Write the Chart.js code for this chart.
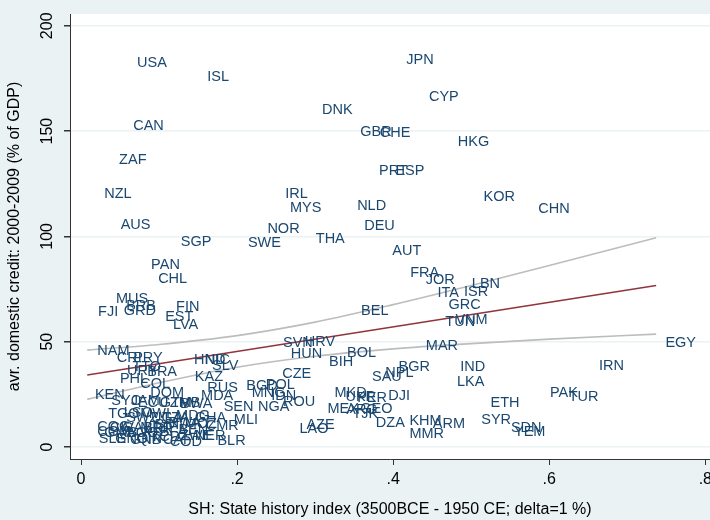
<!DOCTYPE html>
<html>
<head>
<meta charset="utf-8">
<title>State history and domestic credit</title>
<script src="https://cdn.jsdelivr.net/npm/chart.js@4.4.1/dist/chart.umd.min.js"></script>
<style>
  html, body { margin: 0; padding: 0; background: #eaf2f3; }
  #wrap { width: 710px; height: 520px; }
</style>
</head>
<body>
<div id="wrap"><canvas id="chart" width="710" height="520"></canvas></div>
<script>
// country codes, state history index (x) and avg. domestic credit 2000-2009 (y)
var codes = [
  'USA','ISL','JPN','CYP','DNK','CAN','GBR','CHE','HKG','ZAF',
  'PRT','ESP','NZL','IRL','KOR','MYS','NLD','CHN','AUS','DEU',
  'NOR','THA','SGP','SWE','AUT','PAN','FRA','CHL','JOR','LBN',
  'ITA','ISR','MUS','FIN','GRC','BRB','GRD','FJI','BEL','EST',
  'LVA','TUN','VNM','MAR','NAM','SVN','HRV','HUN','BOL','BIH',
  'EGY','BGR','IND','IRN','NPL','SAU','CZE','LKA','PAK','TUR',
  'DJI','ETH','MKD','UKR','PER','MEX','ARG','GEO','TJK','DZA',
  'KHM','ARM','MMR','SYR','SDN','YEM','LAO','AZE','ROU','BGD',
  'POL','MNG','IDN','NGA','SEN','RUS','MDA','KAZ','HND','NIC',
  'SLV','MLI','GHA','CMR','NER','BLR','COD','BWA','ZMB','KEN',
  'SYC','JAM','TGO','SLE','GNQ','GIN','COG','COM','CRI','PRY',
  'URY','BRA','TTO','PHL','COL','DOM','ECU','GTM','LSO','MWI',
  'UGA','TZA','BDI','RWA','MDG','BFA','BEN','TCD','CAF','CIV',
  'GAB','AGO','MRT','GMB','MOZ','ZWE','GNB','LBR','SWZ'
];
var stateHistory = [
  0.068,0.158,0.413,0.442,0.305,0.063,0.354,0.379,0.479,0.045,
  0.378,0.399,0.026,0.258,0.512,0.264,0.350,0.582,0.047,0.359,
  0.235,0.297,0.124,0.210,0.395,0.086,0.418,0.095,0.438,0.497,
  0.453,0.487,0.041,0.118,0.467,0.054,0.051,0.018,0.355,0.104,
  0.114,0.463,0.476,0.438,0.017,0.255,0.283,0.265,0.337,0.314,
  0.745,0.403,0.482,0.660,0.386,0.369,0.254,0.478,0.597,0.621,
  0.390,0.521,0.321,0.335,0.350,0.312,0.336,0.354,0.344,0.374,
  0.417,0.447,0.417,0.509,0.547,0.551,0.276,0.285,0.255,0.208,
  0.233,0.215,0.240,0.223,0.179,0.158,0.150,0.142,0.141,0.155,
  0.164,0.192,0.142,0.156,0.142,0.171,0.110,0.123,0.110,0.014,
  0.035,0.060,0.031,0.019,0.040,0.067,0.017,0.017,0.042,0.063,
  0.055,0.081,0.062,0.046,0.072,0.085,0.069,0.097,0.051,0.072,
  0.086,0.100,0.091,0.108,0.118,0.097,0.121,0.085,0.101,0.033,
  0.049,0.054,0.072,0.026,0.129,0.123,0.059,0.078,0.054
];
var credit = [
  182.3,175.7,183.7,166.2,160.0,152.4,149.6,149.1,144.8,136.3,
  131.0,131.0,120.1,120.1,118.7,113.5,114.4,113.0,105.4,104.9,
  103.5,98.8,97.3,96.9,93.1,86.4,82.6,79.8,79.3,77.4,
  73.1,73.6,70.3,66.5,67.4,66.9,64.6,64.1,64.6,61.7,
  57.9,59.4,60.3,48.0,45.6,49.4,49.9,44.2,44.6,40.4,
  49.4,38.0,38.0,38.5,35.1,33.2,34.7,30.9,25.6,23.7,
  24.2,20.9,25.6,23.7,23.3,18.0,17.6,18.0,15.7,11.4,
  12.3,10.9,6.2,12.8,9.0,7.1,8.5,10.4,21.4,29.0,
  29.4,25.6,24.2,19.0,19.0,28.0,24.2,33.2,41.3,41.3,
  38.5,12.8,13.8,10.0,5.2,2.8,2.4,20.4,20.9,24.7,
  21.8,21.8,15.7,3.8,3.8,3.8,9.5,7.1,42.3,42.3,
  36.1,35.6,38.0,32.3,29.9,25.6,20.9,20.9,16.1,15.7,
  13.8,13.8,10.4,11.4,14.7,7.1,8.1,4.7,3.3,9.0,
  9.0,6.6,9.0,6.6,10.9,5.2,3.3,8.5,13.8
];

// linear fit and its confidence band
var fitX = [0.008, 0.737];
var fitY = [34.2, 76.7];
var ciX = [0.008, 0.1, 0.2, 0.3, 0.4, 0.5, 0.6, 0.737];
var ciUpper = [46.0, 48.7, 52.9, 59.3, 67.6, 76.7, 86.2, 99.4];
var ciLower = [22.6, 30.5, 37.9, 43.1, 46.6, 49.1, 51.2, 53.6];

var xTicks = [0, 0.2, 0.4, 0.6, 0.8];
var yTicks = [0, 50, 100, 150, 200];

Chart.defaults.font.family = '"Liberation Sans", Arial, sans-serif';
Chart.defaults.color = '#000';

// white plot region on the grey page
var plotBackground = {
  id: 'plotBackground',
  beforeDraw: function(chart) {
    var a = chart.chartArea;
    var ctx = chart.ctx;
    ctx.save();
    ctx.fillStyle = '#ffffff';
    ctx.fillRect(a.left, a.top, a.right - a.left, a.bottom - a.top);
    ctx.restore();
  }
};

// draw the country code as the marker
var countryLabels = {
  id: 'countryLabels',
  afterDatasetsDraw: function(chart) {
    var meta = chart.getDatasetMeta(0);
    var ctx = chart.ctx;
    ctx.save();
    ctx.font = '14.5px "Liberation Sans", Arial, sans-serif';
    ctx.fillStyle = '#1a476f';
    ctx.textAlign = 'left';
    ctx.textBaseline = 'middle';
    meta.data.forEach(function(pt, i) {
      ctx.fillText(codes[i], pt.x + 3, pt.y);
    });
    ctx.restore();
  }
};

function toPoints(xs, ys) {
  return xs.map(function(x, i) { return { x: x, y: ys[i] }; });
}

// keep the plot region fixed, no room reserved for overhanging tick labels
function noPadding(scale) {
  scale.paddingLeft = 0;
  scale.paddingRight = 0;
  scale.paddingTop = 0;
  scale.paddingBottom = 0;
}

new Chart(document.getElementById('chart'), {
  type: 'scatter',
  data: {
    datasets: [{
      label: 'countries',
      data: toPoints(stateHistory, credit),
      pointRadius: 0,
      pointHoverRadius: 0
    }, {
      label: 'upper',
      data: toPoints(ciX, ciUpper),
      showLine: true,
      borderColor: '#bdbdbd',
      borderWidth: 1.6,
      cubicInterpolationMode: 'monotone',
      pointRadius: 0
    }, {
      label: 'lower',
      data: toPoints(ciX, ciLower),
      showLine: true,
      borderColor: '#bdbdbd',
      borderWidth: 1.6,
      cubicInterpolationMode: 'monotone',
      pointRadius: 0
    }, {
      label: 'fit',
      data: toPoints(fitX, fitY),
      showLine: true,
      borderColor: '#90353b',
      borderWidth: 1.6,
      pointRadius: 0
    }]
  },
  options: {
    responsive: false,
    animation: false,
    layout: { padding: { top: 14, right: 0, bottom: 0, left: 0 } },
    plugins: {
      legend: { display: false },
      tooltip: { enabled: false }
    },
    scales: {
      x: {
        type: 'linear',
        min: -0.0141,
        max: 0.806,
        afterBuildTicks: function(scale) {
          scale.ticks = xTicks.map(function(v) { return { value: v }; });
        },
        afterFit: function(scale) { scale.height = 61; noPadding(scale); },
        border: { display: true, color: '#333', width: 1 },
        grid: { drawOnChartArea: false, drawTicks: true, tickLength: 6, tickColor: '#333' },
        ticks: {
          autoSkip: false,
          maxRotation: 0,
          padding: 5,
          font: { size: 16 },
          callback: function(v) { return v === 0 ? '0' : String(v).replace(/^0/, ''); }
        },
        title: {
          display: true,
          text: 'SH: State history index (3500BCE - 1950 CE; delta=1 %)',
          font: { size: 16 },
          padding: { top: 0, bottom: 1 }
        }
      },
      y: {
        type: 'linear',
        min: -5.7,
        max: 205.6,
        afterBuildTicks: function(scale) {
          scale.ticks = yTicks.map(function(v) { return { value: v }; });
        },
        afterFit: function(scale) { scale.width = 70; noPadding(scale); },
        border: { display: true, color: '#333', width: 1 },
        grid: { color: '#eaf2f3', lineWidth: 1.5, drawTicks: true, tickLength: 6, tickColor: '#333' },
        ticks: {
          autoSkip: false,
          minRotation: 90,
          maxRotation: 90,
          crossAlign: 'center',
          padding: 3.5,
          font: { size: 16 }
        },
        title: {
          display: true,
          text: 'avr. domestic credit: 2000-2009 (% of GDP)',
          font: { size: 16 },
          padding: { top: 5, bottom: 0 }
        }
      }
    }
  },
  plugins: [plotBackground, countryLabels]
});
</script>
</body>
</html>
